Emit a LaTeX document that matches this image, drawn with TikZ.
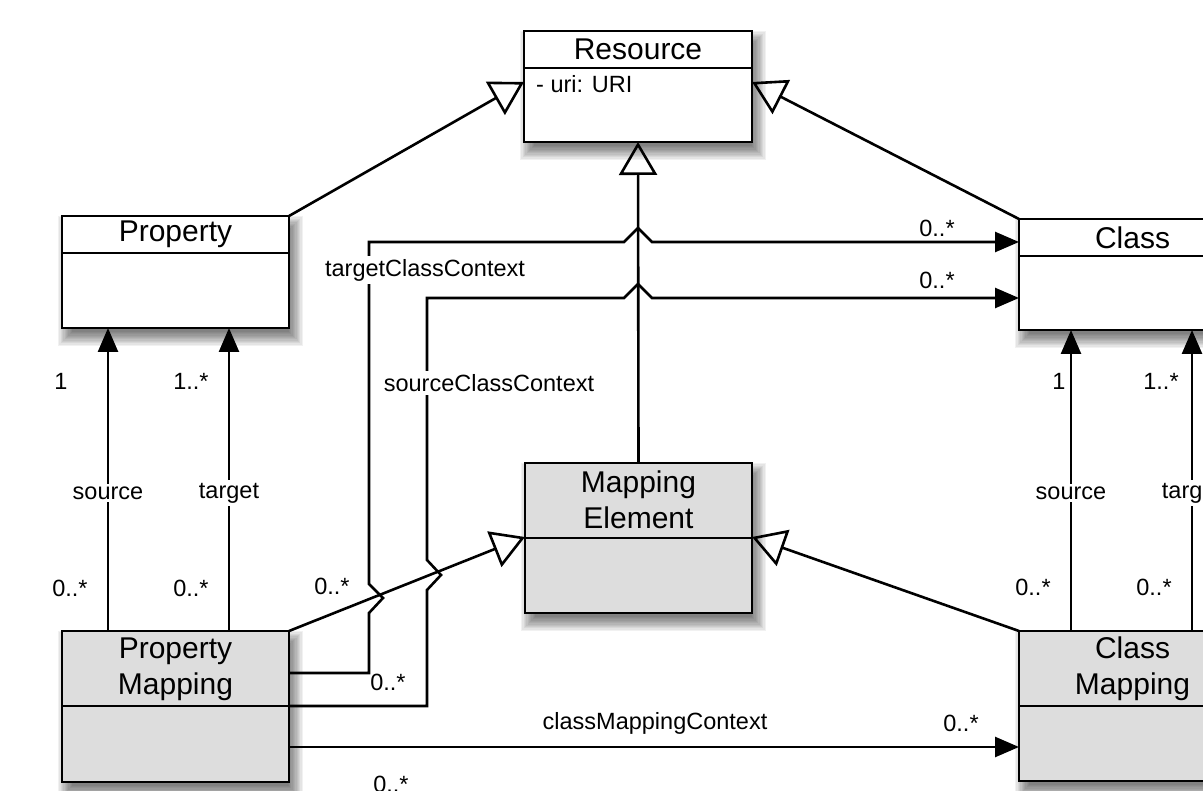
\documentclass[tikz,border=0pt]{standalone}
\usepackage{fontspec}
\setmainfont{Liberation Sans}
\usetikzlibrary{arrows.meta,backgrounds}
\definecolor{mapgray}{RGB}{221,221,221}
\tikzset{
  umlbox/.style={draw=black, line width=2.6pt, fill=white, inner sep=0pt, outer sep=0pt},
  mapbox/.style={umlbox, fill=mapgray},
  boxtitle/.style={font=\fontsize{30}{36}\selectfont, align=center, inner sep=0pt},
  lbl/.style={font=\fontsize{23.5}{28}\selectfont, inner sep=0pt},
  breaklbl/.style={lbl, fill=white, inner sep=3pt},
  conn/.style={line width=2.6pt, line join=miter},
  genline/.style={conn, -{Triangle[open, length=33pt, width=38pt]}},
  assoc/.style={conn, -{Triangle[length=24pt, width=20pt]}},
}
\begin{document}
\begin{tikzpicture}[x=1pt, y=-1pt]
\useasboundingbox (0,0) rectangle (1203,791);
\clip (0,0) rectangle (1203,791);

% class boxes
\node[umlbox, minimum width=228pt, minimum height=111pt] (res)  at (638,86.5) {};
\node[umlbox, minimum width=227pt, minimum height=112pt] (prop) at (175.5,272) {};
\node[umlbox, minimum width=227pt, minimum height=111pt] (cls)  at (1132.5,274.5) {};
\node[mapbox, minimum width=227pt, minimum height=150pt] (me)   at (638.5,538) {};
\node[mapbox, minimum width=227pt, minimum height=151pt] (pm)   at (175.5,706.5) {};
\node[mapbox, minimum width=227pt, minimum height=150pt] (cm)   at (1132.5,706) {};

% compartment dividers
\draw[line width=2.6pt] (res.west |- 0,68) -- (res.east |- 0,68);
\draw[line width=2.6pt] (prop.west |- 0,253) -- (prop.east |- 0,253);
\draw[line width=2.6pt] (cls.west |- 0,256) -- (cls.east |- 0,256);
\draw[line width=2.6pt] (me.west |- 0,538) -- (me.east |- 0,538);
\draw[line width=2.6pt] (pm.west |- 0,706) -- (pm.east |- 0,706);
\draw[line width=2.6pt] (cm.west |- 0,706) -- (cm.east |- 0,706);

% soft drop shadows
\begin{scope}[on background layer]
\foreach \b in {res,prop,cls,me,pm,cm}{
  \foreach \k in {0,...,11}{
    \fill[black, opacity=0.055]
      ([shift={({-4+1.3*\k},{0+1.3*\k})}]\b.north west) rectangle
      ([shift={({14-1.3*\k},{18-1.3*\k})}]\b.south east);
  }
}
\end{scope}

% titles and attributes
\node[boxtitle] (res-t)  at (638,49.5) {Resource};
\node[lbl, anchor=west] (res-a) at (536,84) {- uri: URI};
\node[boxtitle] (prop-t) at (175.5,234.5) {Property};
\node[boxtitle] (cls-t)  at (1132.5,237.5) {Class};
\node[boxtitle] (me-t)   at (638.5,500) {Mapping\\Element};
\node[boxtitle] (pm-t)   at (175.5,669) {Property\\Mapping};
\node[boxtitle] (cm-t)   at (1132.5,669) {Class\\Mapping};

% generalizations
\draw[genline] (prop.north east) -- (res.west |- 0,82);
\draw[genline] (cls.north west) -- (res.east |- 0,82);
\draw[genline] (me.north) -- (res.south);
\draw[genline] (pm.north east) -- (me.west |- 0,537);
\draw[genline] (cm.north west) -- (me.east |- 0,537);

% source / target associations
\draw[assoc] (108,0 |- pm.north) -- (108,0 |- prop.south);
\draw[assoc] (229,0 |- pm.north) -- (229,0 |- prop.south);
\draw[assoc] (1071,0 |- cm.north) -- (1071,0 |- cls.south);
\draw[assoc] (1192,0 |- cm.north) -- (1192,0 |- cls.south);

% context associations with line jumps
\draw[assoc] (pm.east |- 0,673) -- (369,673) -- (369,613) -- (383,598) -- (369,584)
  -- (369,242) -- (624,242) -- (638,228) -- (652,242) -- (cls.west |- 0,242);
\draw[assoc] (pm.east |- 0,706) -- (427,706) -- (427,590) -- (441,575) -- (427,560)
  -- (427,298) -- (624,298) -- (638,284) -- (652,298) -- (cls.west |- 0,298);
\draw[assoc] (pm.east |- 0,747) -- (cm.west |- 0,747);

% role names
\node[breaklbl] (l-psrc) at (108,493) {source};
\node[breaklbl] (l-ptgt) at (229,493) {target};
\node[breaklbl] (l-csrc) at (1071,493) {source};
\node[breaklbl] (l-ctgt) at (1192,493) {target};
\node[breaklbl] (l-tcc)  at (425,270) {targetClassContext};
\node[breaklbl] (l-scc)  at (489,383) {sourceClassContext};
\node[lbl] (l-cmc) at (655,723) {classMappingContext};

% multiplicities
\node[lbl] (m1)  at (61,381) {1};
\node[lbl] (m2)  at (191,381) {1..*};
\node[lbl] (m3)  at (70,588) {0..*};
\node[lbl] (m4)  at (191,588) {0..*};
\node[lbl] (m5)  at (332,586) {0..*};
\node[lbl] (m6)  at (388,682) {0..*};
\node[lbl] (m7)  at (937,228) {0..*};
\node[lbl] (m8)  at (937,280) {0..*};
\node[lbl] (m9)  at (1059,381) {1};
\node[lbl] (m10) at (1161,381) {1..*};
\node[lbl] (m11) at (1033,587) {0..*};
\node[lbl] (m12) at (1154,587) {0..*};
\node[lbl] (m13) at (961,723) {0..*};
\node[lbl] (m14) at (391,784) {0..*};
\end{tikzpicture}
\end{document}
